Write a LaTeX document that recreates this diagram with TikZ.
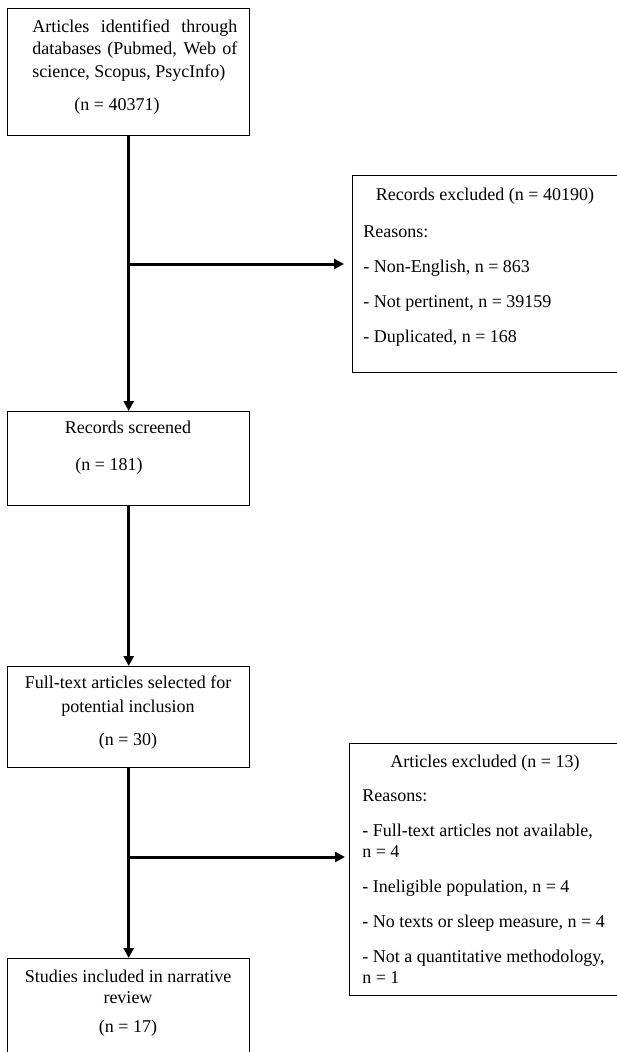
\documentclass[tikz,border=0pt]{standalone}
\usepackage{fontspec}
\setmainfont{Liberation Serif}
\usetikzlibrary{arrows.meta}

\def\pu{0.7pt}
\tikzset{
  stage/.style={draw, line width=1.4*\pu, anchor=north west, inner sep=0pt},
  txt/.style={inner sep=0pt, font=\fontsize{12.6}{14.5}\selectfont},
  flow/.style={line width=3*\pu, -{Triangle[length=10*\pu, width=10*\pu]}},
}

\begin{document}
\begin{tikzpicture}[x=\pu, y=-\pu]
      \clip (0,0) rectangle (617,1052);

      % Boxes
      \node[stage, minimum width=242*\pu, minimum height=127*\pu] (ident) at (7,8) {};
      \node[stage, minimum width=300*\pu, minimum height=197*\pu] (recex) at (352,175) {};
      \node[stage, minimum width=242*\pu, minimum height=94*\pu] (screen) at (7,411) {};
      \node[stage, minimum width=242*\pu, minimum height=101*\pu] (full) at (7,666) {};
      \node[stage, minimum width=300*\pu, minimum height=252*\pu] (artex) at (349,743) {};
      \node[stage, minimum width=242*\pu, minimum height=150*\pu] (incl) at (7,958) {};

      % Texts (multi-line nodes sit on their last baseline)
      \node[txt, anchor=base west, align=left] (identtxt) at (32,77)
        {\makebox[143.5pt][s]{Articles identified through}\\[1.2pt]
         \makebox[143.5pt][s]{databases (Pubmed, Web of}\\[1.2pt]
         science, Scopus, PsycInfo)};
      \node[txt, anchor=base] (identn) at (117,110) {(n = 40371)};

      \node[txt, anchor=base] (recexhead) at (485,200) {Records excluded (n = 40190)};
      \node[txt, anchor=base west, align=left] (recexlist) at (363,342)
        {Reasons:\\[10pt]
         - Non-English, n = 863\\[10pt]
         - Not pertinent, n = 39159\\[10pt]
         - Duplicated, n = 168};

      \node[txt, anchor=base] (screentxt) at (128,433) {Records screened};
      \node[txt, anchor=base] (screenn) at (109,470) {(n = 181)};

      \node[txt, anchor=base, align=center] (fulltxt) at (128,745)
        {Full-text articles selected for\\[2.3pt]
         potential inclusion\\[8.6pt]
         (n = 30)};

      \node[txt, anchor=base] (artexhead) at (485,767) {Articles excluded (n = 13)};
      \node[txt, anchor=base west, align=left] (artexlist) at (362,983)
        {Reasons:\\[10pt]
         - Full-text articles not available,\\
         n = 4\\[10pt]
         - Ineligible population, n = 4\\[10pt]
         - No texts or sleep measure, n = 4\\[10pt]
         - Not a quantitative methodology,\\
         n = 1};

      \node[txt, anchor=base, align=center] (incltxt) at (128,1032)
        {Studies included in narrative\\
         review\\[5.8pt]
         (n = 17)};

      % Flow
      \coordinate (fork1) at (128,264);
      \coordinate (fork2) at (128,857);
      \draw[flow] (ident.south) -- (screen.north);
      \draw[flow, shorten >=8*\pu] (fork1) -- (fork1 -| recex.west);
      \draw[flow] (screen.south) -- (full.north);
      \draw[flow] (full.south) -- (incl.north);
      \draw[flow, shorten >=4*\pu] (fork2) -- (fork2 -| artex.west);
\end{tikzpicture}
\end{document}
